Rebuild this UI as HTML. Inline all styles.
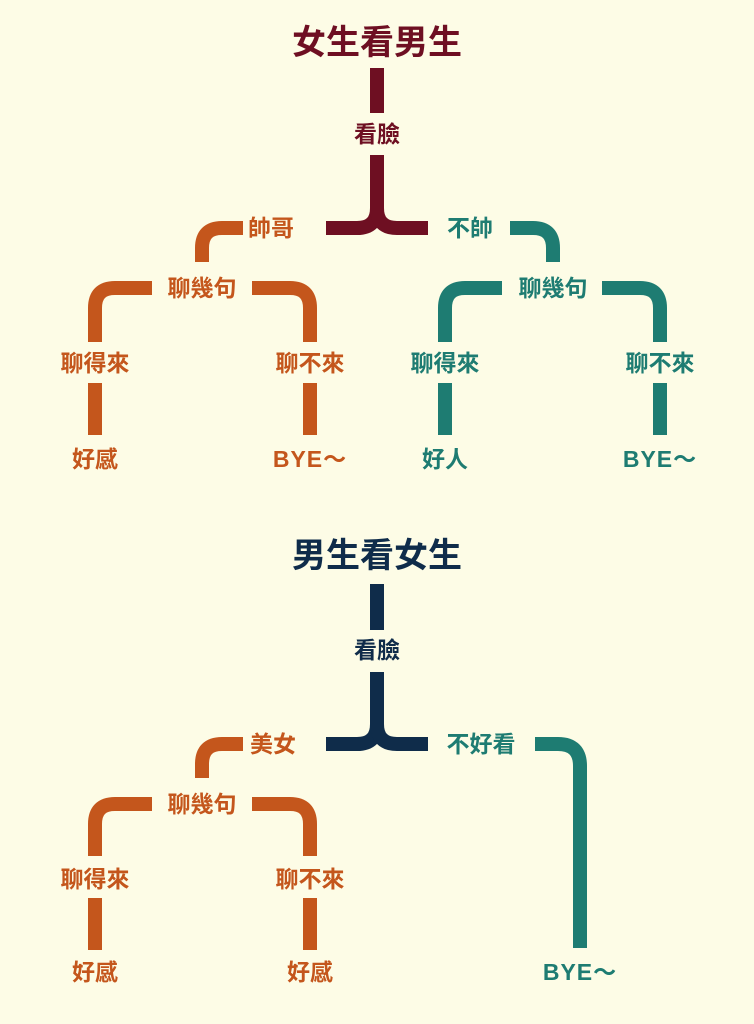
<!DOCTYPE html>
<html><head><meta charset="utf-8"><style>
html,body{margin:0;padding:0;background:#fdfce6;}
svg{display:block}
text{font-family:"Liberation Sans","Noto Sans CJK TC",sans-serif;font-weight:bold;text-anchor:middle;dominant-baseline:central}
</style></head><body>
<svg width="754" height="1024" viewBox="0 0 754 1024">
<rect width="754" height="1024" fill="#fdfce6"/>
<g fill="none" stroke-width="14" stroke-linecap="butt">
<g stroke="#6e0f22">
<path d="M377,68 V113"/>
<path d="M377,155 V208 Q377,228 357,228 H326"/>
<path d="M377,208 Q377,228 397,228 H428"/>
</g>
<g stroke="#c4561c">
<path d="M243,228 H222 Q202,228 202,248 V262"/>
<path d="M152,288 H115 Q95,288 95,308 V342"/>
<path d="M252,288 H290 Q310,288 310,308 V342"/>
<path d="M95,383 V435"/>
<path d="M310,383 V435"/>
</g>
<g stroke="#1e7c72">
<path d="M510,228 H533 Q553,228 553,248 V262"/>
<path d="M502,288 H465 Q445,288 445,308 V342"/>
<path d="M602,288 H640 Q660,288 660,308 V342"/>
<path d="M445,383 V435"/>
<path d="M660,383 V435"/>
</g>
<g stroke="#0f2c4a">
<path d="M377,584 V630"/>
<path d="M377,672 V724 Q377,744 357,744 H326"/>
<path d="M377,724 Q377,744 397,744 H428"/>
</g>
<g stroke="#c4561c">
<path d="M243,744 H222 Q202,744 202,764 V778"/>
<path d="M152,804 H115 Q95,804 95,824 V856"/>
<path d="M252,804 H290 Q310,804 310,824 V856"/>
<path d="M95,898 V950"/>
<path d="M310,898 V950"/>
</g>
<g stroke="#1e7c72">
<path d="M535,744 H558 Q580,744 580,766 V948"/>
</g>
</g>
<g font-size="34">
<text x="377" y="43" fill="#6e0f22">女生看男生</text>
<text x="377" y="556" fill="#0f2c4a">男生看女生</text>
</g>
<g font-size="23">
<text x="377" y="134" fill="#6e0f22">看臉</text>
<text x="271" y="228" fill="#c4561c">帥哥</text>
<text x="470" y="228" fill="#1e7c72">不帥</text>
<text x="202" y="288" fill="#c4561c">聊幾句</text>
<text x="553" y="288" fill="#1e7c72">聊幾句</text>
<text x="95" y="363" fill="#c4561c">聊得來</text>
<text x="310" y="363" fill="#c4561c">聊不來</text>
<text x="445" y="363" fill="#1e7c72">聊得來</text>
<text x="660" y="363" fill="#1e7c72">聊不來</text>
<text x="95" y="459" fill="#c4561c">好感</text>
<text x="310" y="459" fill="#c4561c" letter-spacing="1">BYE～</text>
<text x="445" y="459" fill="#1e7c72">好人</text>
<text x="660" y="459" fill="#1e7c72" letter-spacing="1">BYE～</text>
<text x="377" y="650" fill="#0f2c4a">看臉</text>
<text x="273" y="744" fill="#c4561c">美女</text>
<text x="481" y="744" fill="#1e7c72">不好看</text>
<text x="202" y="804" fill="#c4561c">聊幾句</text>
<text x="95" y="879" fill="#c4561c">聊得來</text>
<text x="310" y="879" fill="#c4561c">聊不來</text>
<text x="95" y="972" fill="#c4561c">好感</text>
<text x="310" y="972" fill="#c4561c">好感</text>
<text x="580" y="972" fill="#1e7c72" letter-spacing="1">BYE～</text>
</g>
</svg>
</body></html>
